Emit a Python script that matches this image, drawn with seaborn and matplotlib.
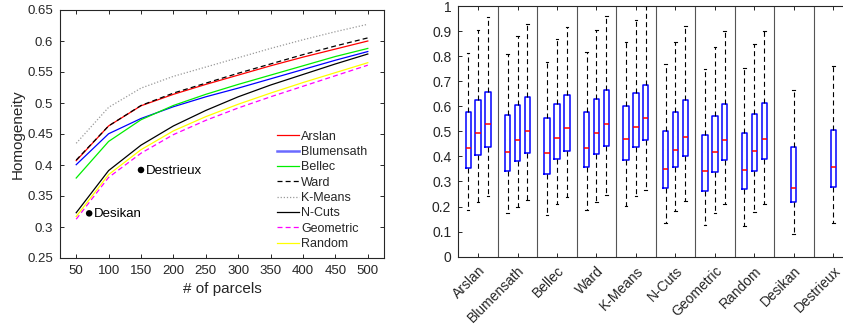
import numpy as np
import pandas as pd
import matplotlib
matplotlib.use("Agg")
import matplotlib.pyplot as plt
from matplotlib.lines import Line2D
from matplotlib.ticker import FuncFormatter
import seaborn as sns

plt.rcParams["font.family"] = ["Liberation Sans", "DejaVu Sans"]

# ---------------- mean homogeneity vs. number of parcels ----------------
parcels = [50, 100, 150, 200, 250, 300, 350, 400, 450, 500]
methods = ["Arslan", "Blumensath", "Bellec", "Ward", "K-Means", "N-Cuts", "Geometric", "Random"]
arslan = [0.407, 0.463, 0.4955, 0.514, 0.530, 0.545, 0.560, 0.574, 0.587, 0.600]
blumensath = [0.4005, 0.4504, 0.475, 0.494, 0.510, 0.524, 0.539, 0.554, 0.569, 0.583]
bellec = [0.379, 0.438, 0.473, 0.496, 0.514, 0.530, 0.545, 0.560, 0.575, 0.588]
ward = [0.408, 0.463, 0.496, 0.516, 0.532, 0.548, 0.563, 0.578, 0.592, 0.605]
kmeans = [0.435, 0.493, 0.524, 0.543, 0.558, 0.573, 0.588, 0.602, 0.615, 0.627]
ncuts = [0.323, 0.391, 0.432, 0.463, 0.488, 0.510, 0.529, 0.546, 0.563, 0.579]
geometric = [0.3126, 0.380, 0.419, 0.449, 0.472, 0.492, 0.510, 0.527, 0.544, 0.561]
random_parc = [0.317, 0.3845, 0.4247, 0.455, 0.478, 0.498, 0.516, 0.533, 0.549, 0.565]
curve_values = [arslan, blumensath, bellec, ward, kmeans, ncuts, geometric, random_parc]

atlas_names = ["Desikan", "Destrieux"]
atlas_parcels = [70, 150]
atlas_homogeneity = [0.322, 0.392]

# ---------------- subject-level distributions ----------------
box_groups = ["Arslan", "Blumensath", "Bellec", "Ward", "K-Means", "N-Cuts",
              "Geometric", "Random", "Desikan", "Destrieux"]
# each box: [lower whisker, Q1, median, Q3, upper whisker]
arslan_boxes = [[0.185, 0.353, 0.433, 0.576, 0.814],
                [0.219, 0.407, 0.494, 0.624, 0.904],
                [0.244, 0.438, 0.528, 0.657, 0.957]]
blumensath_boxes = [[0.173, 0.341, 0.417, 0.564, 0.807],
                    [0.200, 0.383, 0.466, 0.604, 0.882],
                    [0.227, 0.415, 0.500, 0.637, 0.928]]
bellec_boxes = [[0.168, 0.331, 0.413, 0.555, 0.777],
                [0.212, 0.389, 0.475, 0.611, 0.870],
                [0.240, 0.422, 0.515, 0.645, 0.916]]
ward_boxes = [[0.185, 0.357, 0.434, 0.579, 0.818],
              [0.220, 0.409, 0.495, 0.628, 0.904],
              [0.248, 0.440, 0.528, 0.663, 0.960]]
kmeans_boxes = [[0.204, 0.385, 0.469, 0.602, 0.857],
                [0.244, 0.436, 0.518, 0.652, 0.944],
                [0.267, 0.466, 0.552, 0.685, 1.000]]
ncuts_boxes = [[0.136, 0.276, 0.348, 0.503, 0.768],
               [0.184, 0.359, 0.426, 0.579, 0.857],
               [0.223, 0.403, 0.479, 0.624, 0.922]]
geometric_boxes = [[0.125, 0.264, 0.340, 0.486, 0.748],
                   [0.176, 0.337, 0.416, 0.562, 0.837],
                   [0.209, 0.385, 0.465, 0.611, 0.902]]
random_boxes = [[0.124, 0.272, 0.344, 0.495, 0.754],
                [0.180, 0.343, 0.420, 0.568, 0.850],
                [0.211, 0.388, 0.469, 0.615, 0.902]]
desikan_boxes = [[0.091, 0.217, 0.276, 0.436, 0.664]]
destrieux_boxes = [[0.133, 0.280, 0.356, 0.506, 0.761]]
all_boxes = [arslan_boxes, blumensath_boxes, bellec_boxes, ward_boxes, kmeans_boxes,
             ncuts_boxes, geometric_boxes, random_boxes, desikan_boxes, destrieux_boxes]

# ---------------- styling ----------------
axis_color = "#262626"
palette = {"Arslan": "#ff0000", "Blumensath": "#0000ff", "Bellec": "#00ee00",
           "Ward": "#000000", "K-Means": "#9a9a9a", "N-Cuts": "#000000",
           "Geometric": "#ff00ff", "Random": "#ffff00"}
dashes = {"Arslan": "", "Blumensath": "", "Bellec": "", "Ward": (4, 2.5),
          "K-Means": (1, 1.5), "N-Cuts": "", "Geometric": (4, 2.5), "Random": ""}

W, H = 843, 328
fig = plt.figure(figsize=(W / 100, H / 100), dpi=100)
ax1 = fig.add_axes([60 / W, 1 - 258 / H, 324 / W, 248 / H])
ax2 = fig.add_axes([458.3 / W, 1 - 256.7 / H, 394.7 / W, 250.7 / H])

# ---- left panel ----
curves = pd.DataFrame({
    "parcels": np.tile(parcels, len(methods)),
    "homogeneity": np.concatenate(curve_values),
    "method": np.repeat(methods, len(parcels)),
})
sns.lineplot(data=curves, x="parcels", y="homogeneity", hue="method", style="method",
             hue_order=methods, style_order=methods, palette=palette, dashes=dashes,
             linewidth=0.9, legend=False, errorbar=None, ax=ax1)

atlas = pd.DataFrame({"parcels": atlas_parcels, "homogeneity": atlas_homogeneity})
sns.scatterplot(data=atlas, x="parcels", y="homogeneity", color="black", s=22,
                edgecolor="none", ax=ax1, zorder=5)
for name, xp, yp in zip(atlas_names, atlas_parcels, atlas_homogeneity):
    ax1.annotate(name, (xp, yp), xytext=(3.5, -0.5), textcoords="offset points",
                 va="center", ha="left", fontsize=9.5, color="black")

handles = []
for m in methods:
    h = Line2D([], [], color=palette[m], lw=0.9)
    if dashes[m]:
        h.set_dashes(dashes[m])
    handles.append(h)
# the Blumensath key is drawn heavier and lighter
handles[1].set_linewidth(1.8)
handles[1].set_color("#6a6aff")
leg = ax1.legend(handles, methods, loc="upper left", bbox_to_anchor=(0.6707, 0.514),
                 frameon=False, fontsize=9, handlelength=1.75, handletextpad=0.15,
                 labelspacing=0.27, borderpad=0, borderaxespad=0)
for t in leg.get_texts():
    t.set_color(axis_color)

ax1.set_xlim(25, 525)
ax1.set_ylim(0.25, 0.65)
ax1.set_xticks(parcels)
ax1.set_yticks(np.round(np.arange(0.25, 0.651, 0.05), 2))
ax1.yaxis.set_major_formatter(FuncFormatter(lambda v, p: f"{v:g}"))
ax1.set_xlabel("# of parcels", fontsize=11, color=axis_color, labelpad=4)
ax1.set_ylabel("Homogeneity", fontsize=11, color=axis_color, labelpad=2)
ax1.tick_params(direction="in", length=3, width=0.7, top=True, right=True,
                labelsize=9.5, colors=axis_color, pad=5)

# ---- right panel ----
offsets3 = [-0.25, 0.0, 0.25]
rows = []
for gi, boxes in enumerate(all_boxes):
    offs = offsets3 if len(boxes) == 3 else [0.0]
    for off, stats in zip(offs, boxes):
        for v in stats:
            rows.append((gi + off, v))
dist = pd.DataFrame(rows, columns=["pos", "homogeneity"])

sns.boxplot(data=dist, x="pos", y="homogeneity", native_scale=True, orient="x",
            whis=np.inf, width=0.54, fill=False, color="#0000ff", linewidth=1.0,
            showfliers=False,
            boxprops=dict(color="#0000ff", linewidth=1.1),
            medianprops=dict(color="#ff0000", linewidth=1.1),
            whiskerprops=dict(color="black", linestyle=(0, (4.5, 3)), linewidth=0.8),
            capprops=dict(color="black", linewidth=0.8),
            ax=ax2)

for gi in range(len(box_groups) - 1):
    ax2.axvline(gi + 0.5, color="#555555", lw=0.8, zorder=0)

ax2.set_xlim(-0.5, len(box_groups) - 0.5)
ax2.set_ylim(0, 1)
ax2.set_yticks(np.round(np.arange(0, 1.01, 0.1), 1))
ax2.yaxis.set_major_formatter(FuncFormatter(lambda v, p: f"{v:g}"))
ax2.set_xticks(range(len(box_groups)))
ax2.set_xticklabels(box_groups, rotation=45, ha="right", va="top", rotation_mode="anchor")
ax2.set_xlabel("")
ax2.set_ylabel("")
ax2.tick_params(direction="in", length=3, width=0.7, top=True, right=True,
                labelsize=10, colors=axis_color, pad=5)

for ax in (ax1, ax2):
    for s in ax.spines.values():
        s.set_color(axis_color)
        s.set_linewidth(0.8)

fig.savefig("out.png", dpi=100)
